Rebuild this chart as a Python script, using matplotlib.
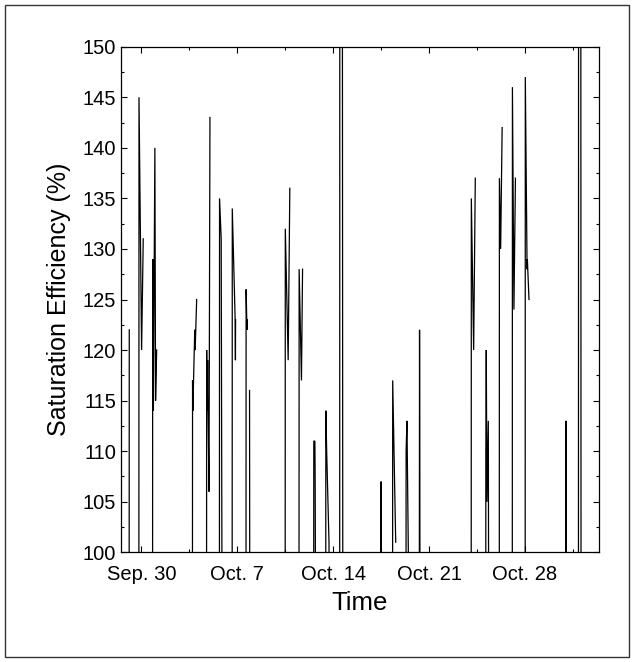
import numpy as np
import matplotlib
matplotlib.use("Agg")
import matplotlib.pyplot as plt
from matplotlib.ticker import MultipleLocator
from matplotlib.patches import Rectangle

nan = float("nan")

# time in days since Sep. 30 ; values of saturation efficiency (%)
# (points below 100 or above 150 are clipped by the axes)
days = [
    -0.90, -0.89, nan,
    -0.19, -0.18, 0.01, 0.13, nan,
    0.81, 0.82, 0.87, 0.98, 1.03, 1.11, nan,
    3.72, 3.73, 3.75, 3.89, 3.92, 4.03, nan,
    4.75, 4.76, 4.80, 4.83, 4.86, 4.93, 5.00, nan,
    5.69, 5.70, 5.82, 5.89, nan,
    6.62, 6.63, 6.84, 6.86, 6.87, nan,
    7.63, 7.64, 7.70, 7.72, nan, 7.89, 7.91, nan,
    10.49, 10.50, 10.71, 10.83, nan,
    11.50, 11.51, 11.68, 11.76, nan,
    12.57, 12.58, 12.66, 12.68, 12.72, nan,
    13.45, 13.46, 13.52, 13.69, 13.72, nan,
    14.47, 14.48, 14.66, 14.70, nan,
    17.48, 17.49, 17.51, nan,
    18.33, 18.34, 18.56, nan,
    19.31, 19.32, 19.38, 19.56, nan,
    20.28, 20.30, 20.34, nan,
    24.07, 24.08, 24.25, 24.37, nan,
    25.13, 25.14, 25.17, 25.22, 25.32, 25.35, nan,
    26.12, 26.13, 26.22, 26.33, nan,
    27.07, 27.08, 27.19, 27.30, nan,
    28.01, 28.02, 28.15, 28.17, 28.29, nan,
    30.97, 30.98, 31.00, 31.03, nan,
    31.90, 31.91, 32.07, 32.09,
]
efficiency = [
    90, 122, nan,
    90, 145, 120, 131, nan,
    90, 129, 114, 140, 115, 120, nan,
    90, 117, 114, 122, 120, 125, nan,
    90, 120, 114, 119, 114, 106, 143, nan,
    90, 135, 131, 90, nan,
    90, 134, 123, 119, 123, nan,
    90, 126, 122, 123, nan, 116, 90, nan,
    90, 132, 119, 136, nan,
    90, 128, 117, 128, nan,
    90, 111, 111, 107, 90, nan,
    90, 114, 110, 101, 90, nan,
    90, 170, 170, 90, nan,
    90, 107, 90, nan,
    90, 117, 101, nan,
    90, 110, 113, 90, nan,
    90, 122, 90, nan,
    90, 135, 120, 137, nan,
    90, 110, 120, 105, 113, 90, nan,
    90, 137, 130, 142, nan,
    90, 146, 124, 137, nan,
    90, 147, 128, 129, 125, nan,
    90, 110, 113, 90, nan,
    90, 170, 170, 90,
]

xtick_pos = [0, 7, 14, 21, 28]
xtick_labels = ["Sep. 30", "Oct. 7", "Oct. 14", "Oct. 21", "Oct. 28"]
ytick_pos = [100, 105, 110, 115, 120, 125, 130, 135, 140, 145, 150]

plt.rcParams['font.family'] = ['Liberation Sans', 'DejaVu Sans']

W, H = 634, 662
fig = plt.figure(figsize=(W / 100, H / 100), dpi=100)
ax = fig.add_axes([120.5 / W, 1 - 552.3 / H, (599 - 120.5) / W, (552.3 - 46.7) / H])

ax.plot(days, efficiency, color="black", lw=0.9, solid_joinstyle="miter")

ax.set_xlim(-1.53, 33.4)
ax.set_ylim(100, 150)
ax.set_xticks(xtick_pos)
ax.set_xticklabels(xtick_labels)
ax.set_yticks(ytick_pos)
ax.xaxis.set_minor_locator(MultipleLocator(3.5))
ax.yaxis.set_minor_locator(MultipleLocator(2.5))
ax.tick_params(which="both", direction="in", top=True, right=True, labelsize=14.5, width=0.8)
ax.tick_params(which="major", length=4)
ax.tick_params(which="minor", length=2)
ax.tick_params(axis="y", which="major", pad=3)
ax.tick_params(axis="x", which="major", pad=9)
for s in ax.spines.values():
    s.set_linewidth(0.9)

ax.set_xlabel("Time", fontsize=18.5, labelpad=5)
ax.set_ylabel("Saturation Efficiency (%)", fontsize=18)
ax.yaxis.set_label_coords(-0.104, 0.5)

fig.patches.append(Rectangle((5 / W, 5 / H), (629 - 5) / W, (657 - 5) / H,
                             transform=fig.transFigure, fill=False,
                             edgecolor="#333333", lw=1.0))

fig.savefig("out.png", dpi=100)
